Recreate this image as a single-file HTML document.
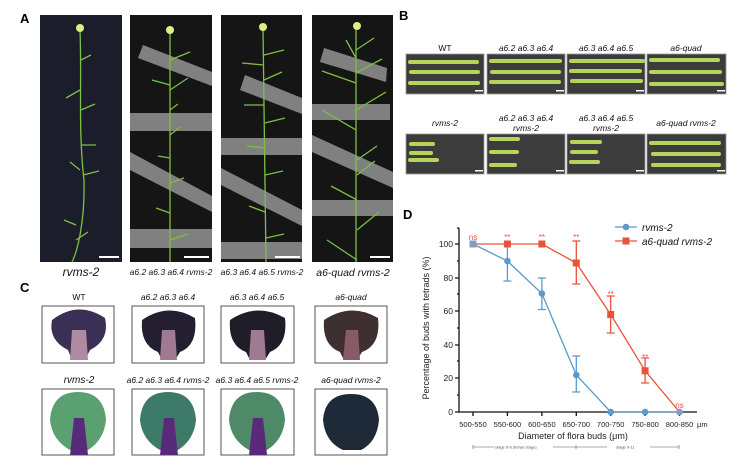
<!DOCTYPE html>
<html><head><meta charset="utf-8"><style>
html,body{margin:0;padding:0;background:#fff;}
svg{display:block;font-family:"Liberation Sans",Arial,sans-serif;}
</style></head><body>
<svg width="749" height="467" viewBox="0 0 749 467" xmlns="http://www.w3.org/2000/svg">
<rect width="749" height="467" fill="#fff"/>
<!-- Panel A -->
<text x="20" y="23" font-size="13" font-weight="bold">A</text>
<rect x="40" y="15" width="82" height="247" fill="#1c1d2a"/>
<rect x="130" y="15" width="82" height="247" fill="#151515"/>
<rect x="221" y="15" width="81" height="247" fill="#151515"/>
<rect x="312" y="15" width="81" height="247" fill="#151515"/>
<!-- tapes -->
<g fill="#8c8c8c" opacity="0.9">
<polygon points="143,45 212,72 212,86 138,58"/>
<rect x="130" y="113" width="82" height="18"/>
<polygon points="130,152 212,196 212,212 130,170"/>
<rect x="130" y="229" width="82" height="19"/>
<polygon points="245,75 302,98 302,114 240,90"/>
<rect x="221" y="138" width="81" height="17"/>
<polygon points="221,168 302,210 302,226 221,185"/>
<rect x="221" y="242" width="81" height="17"/>
<polygon points="324,48 387,68 386,82 320,62"/>
<rect x="312" y="104" width="78" height="16"/>
<polygon points="312,135 393,172 393,188 312,152"/>
<rect x="312" y="200" width="81" height="16"/>
</g>
<g stroke="#7cc043" stroke-width="1.3" fill="none">
<path d="M80,30 C82,80 78,130 84,180 C85,220 78,250 72,262"/>
<path d="M81,60 l10,-5 M80,90 l-14,8 M81,110 l14,-6 M82,145 l14,0 M83,175 l16,-4 M80,170 l-10,-8 M76,225 l-12,-5 M76,240 l12,-8"/>
<path d="M170,30 L170,262"/>
<path d="M170,60 l20,-8 M170,85 l-18,-5 M170,90 l18,-12 M170,110 l8,-6 M170,135 l10,-8 M170,158 l-12,-2 M170,183 l14,-5 M170,213 l-14,-5 M170,240 l18,-6"/>
<path d="M263,28 L266,262"/>
<path d="M264,55 l20,-5 M264,65 l-22,-2 M264,80 l18,-8 M264,105 l-20,0 M265,123 l20,-5 M265,148 l-18,-2 M265,175 l18,-4 M265,212 l-16,-6 M266,238 l18,-4"/>
<path d="M356,28 L356,262"/>
<path d="M356,50 l18,-12 M356,58 l-10,-18 M356,83 l-34,-12 M356,73 l26,-14 M356,110 l30,-18 M356,130 l-34,-20 M357,160 l20,-14 M357,175 l18,-14 M357,200 l-26,-14 M357,230 l22,-18 M357,260 l-30,-20"/>
</g>
<g fill="#d8f08a"><circle cx="80" cy="28" r="4"/><circle cx="170" cy="30" r="4"/><circle cx="263" cy="27" r="4"/><circle cx="357" cy="26" r="4"/></g>
<g fill="#fff"><rect x="99" y="256" width="20" height="2"/><rect x="184" y="256" width="25" height="2"/><rect x="275" y="256" width="25" height="2"/><rect x="370" y="256" width="20" height="2"/></g>
<g font-style="italic" text-anchor="middle" fill="#111">
<text x="81" y="276" font-size="12">rvms-2</text>
<text x="171" y="275" font-size="8.5">a6.2 a6.3 a6.4 rvms-2</text>
<text x="262" y="275" font-size="8.5">a6.3 a6.4 a6.5 rvms-2</text>
<text x="353" y="276" font-size="10.5">a6-quad rvms-2</text>
</g>
<!-- Panel B -->
<text x="399" y="20" font-size="13" font-weight="bold">B</text>
<g font-size="8.5" text-anchor="middle" fill="#111">
<text x="445" y="51">WT</text>
<text x="526" y="51" font-style="italic">a6.2 a6.3 a6.4</text>
<text x="606" y="51" font-style="italic">a6.3 a6.4 a6.5</text>
<text x="686" y="51" font-style="italic">a6-quad</text>
<text x="445" y="126" font-style="italic">rvms-2</text>
<text x="526" y="121" font-style="italic">a6.2 a6.3 a6.4</text>
<text x="526" y="131" font-style="italic">rvms-2</text>
<text x="606" y="121" font-style="italic">a6.3 a6.4 a6.5</text>
<text x="606" y="131" font-style="italic">rvms-2</text>
<text x="686" y="126" font-style="italic">a6-quad rvms-2</text>
</g>
<g fill="#3c3c3c" stroke="#999" stroke-width="0.8">
<rect x="406" y="54" width="78" height="40"/><rect x="487" y="54" width="78" height="40"/><rect x="567" y="54" width="78" height="40"/><rect x="647" y="54" width="79" height="40"/>
<rect x="406" y="134" width="78" height="40"/><rect x="487" y="134" width="78" height="40"/><rect x="567" y="134" width="78" height="40"/><rect x="647" y="134" width="79" height="40"/>
</g>
<g stroke="#b5d55a" stroke-width="4" stroke-linecap="round">
<path d="M410,62 H477 M411,72 H478 M410,83 H478"/>
<path d="M491,61 H560 M492,72 H559 M491,82 H559"/>
<path d="M571,61 H643 M571,71 H640 M572,81 H641"/>
<path d="M651,60 H718 M651,72 H720 M651,84 H722"/>
<path d="M411,144 H433 M411,153 H431 M410,160 H437"/>
<path d="M491,139 H518 M491,152 H517 M491,165 H515"/>
<path d="M572,142 H600 M572,152 H596 M571,162 H598"/>
<path d="M651,143 H719 M653,154 H719 M653,165 H719"/>
</g>
<g fill="#fff"><rect x="475" y="90" width="8" height="1.5"/><rect x="556" y="90" width="8" height="1.5"/><rect x="636" y="90" width="8" height="1.5"/><rect x="717" y="90" width="8" height="1.5"/><rect x="475" y="170" width="8" height="1.5"/><rect x="556" y="170" width="8" height="1.5"/><rect x="636" y="170" width="8" height="1.5"/><rect x="717" y="170" width="8" height="1.5"/></g>
<!-- Panel C -->
<text x="20" y="292" font-size="13" font-weight="bold">C</text>
<g font-size="8.5" text-anchor="middle" fill="#111">
<text x="79" y="300">WT</text>
<text x="168" y="300" font-style="italic">a6.2 a6.3 a6.4</text>
<text x="257" y="300" font-style="italic">a6.3 a6.4 a6.5</text>
<text x="351" y="300" font-style="italic">a6-quad</text>
<text x="79" y="383" font-style="italic" font-size="10">rvms-2</text>
<text x="168" y="383" font-style="italic">a6.2 a6.3 a6.4 rvms-2</text>
<text x="257" y="383" font-style="italic">a6.3 a6.4 a6.5 rvms-2</text>
<text x="351" y="383" font-style="italic">a6-quad rvms-2</text>
</g>
<g fill="#fff" stroke="#555" stroke-width="1">
<rect x="42" y="306" width="72" height="57"/><rect x="132" y="306" width="72" height="57"/><rect x="221" y="306" width="73" height="57"/><rect x="315" y="306" width="72" height="57"/>
<rect x="42" y="389" width="72" height="66"/><rect x="132" y="389" width="72" height="66"/><rect x="221" y="389" width="73" height="66"/><rect x="315" y="389" width="72" height="66"/>
</g>
<g>
<path d="M52,320 Q78,300 105,318 Q110,340 90,350 L85,360 L72,360 L68,350 Q48,340 52,320Z" fill="#3a2f55"/>
<path d="M142,320 Q168,302 195,318 Q198,345 180,352 L175,360 L162,360 L158,352 Q140,345 142,320Z" fill="#231f30"/>
<path d="M230,320 Q257,302 285,318 Q288,345 270,352 L265,360 L250,360 L246,352 Q228,345 230,320Z" fill="#1e1d28"/>
<path d="M324,320 Q351,302 378,318 Q381,345 362,352 L357,360 L344,360 L340,352 Q322,345 324,320Z" fill="#3e3030"/>
<path d="M72,330 L86,330 L88,360 L70,360Z" fill="#b08aa0"/>
<path d="M162,330 L175,330 L177,360 L160,360Z" fill="#a07a90"/>
<path d="M251,330 L264,330 L266,360 L249,360Z" fill="#a07a90"/>
<path d="M346,330 L358,330 L360,360 L343,360Z" fill="#8a5a6a"/>
<path d="M50,420 Q52,392 78,392 Q104,392 106,420 Q104,440 88,450 L70,450 Q52,440 50,420Z" fill="#5aa070"/>
<path d="M140,420 Q142,392 168,392 Q194,392 196,420 Q194,440 178,450 L160,450 Q142,440 140,420Z" fill="#3e7a68"/>
<path d="M229,420 Q231,392 257,392 Q283,392 285,420 Q283,440 267,450 L249,450 Q231,440 229,420Z" fill="#4e8a68"/>
<path d="M323,420 Q325,394 351,394 Q377,394 379,420 Q377,442 361,450 L343,450 Q325,442 323,420Z" fill="#1e2a38"/>
<path d="M74,418 L84,418 L88,455 L70,455Z" fill="#5a2a7a"/>
<path d="M164,418 L174,418 L178,455 L160,455Z" fill="#5a2a7a"/>
<path d="M253,418 L263,418 L267,455 L249,455Z" fill="#5a2a7a"/>
</g>
<!-- Panel D -->
<text x="403" y="219" font-size="13" font-weight="bold">D</text>
<g stroke="#111" stroke-width="1.3" fill="none">
<path d="M459,228 V412 H697"/>
<path d="M455,244 H459 M455,278 H459 M455,311 H459 M455,345 H459 M455,378 H459 M455,412 H459"/>
<path d="M457,261 H459 M457,294 H459 M457,328 H459 M457,361 H459 M457,395 H459 M457,228 H459"/>
<path d="M473,412 v4 M507.4,412 v4 M541.9,412 v4 M576.3,412 v4 M610.7,412 v4 M645.1,412 v4 M679.5,412 v4"/>
</g>
<g font-size="8.5" text-anchor="end" fill="#222">
<text x="453" y="247">100</text><text x="453" y="281">80</text><text x="453" y="314">60</text><text x="453" y="348">40</text><text x="453" y="381">20</text><text x="453" y="415">0</text>
</g>
<g font-size="7.5" text-anchor="middle" fill="#222">
<text x="473" y="427">500-550</text><text x="507.4" y="427">550-600</text><text x="541.9" y="427">600-650</text><text x="576.3" y="427">650-700</text><text x="610.7" y="427">700-750</text><text x="645.1" y="427">750-800</text><text x="679.5" y="427">800-850</text>
</g>
<text x="697" y="427" font-size="7.5" fill="#222">μm</text>
<text x="573" y="439" font-size="9" text-anchor="middle" fill="#222">Diameter of flora buds (μm)</text>
<text transform="translate(429,328) rotate(-90)" font-size="9" text-anchor="middle" fill="#222">Percentage of buds with tetrads (%)</text>
<g stroke="#555" stroke-width="0.6"><path d="M473,447 H494 M553,447 H576 M576,447 H607 M650,447 H679 M473,445 v4 M679,445 v4 M576,445 v4"/></g>
<g font-size="4" fill="#555"><text x="495" y="448.5">stage 6-8 (tetrad stage)</text><text x="616" y="448.5">stage 9-11</text></g>
<!-- blue series -->
<g stroke="#5b9ac9" stroke-width="1.3" fill="none">
<path d="M473,244 L507.4,261 L541.9,293.6 L576.3,375 L610.7,412 L645.1,412 L679.5,412"/>
<path d="M507.4,281 V244 M503.4,281 h8 M541.9,309.5 V278 M537.9,309.5 h8 M537.9,278 h8 M576.3,392 V356 M572.3,392 h8 M572.3,356 h8"/>
</g>
<g fill="#5b9ac9"><circle cx="473" cy="244" r="3.3"/><circle cx="507.4" cy="261" r="3.3"/><circle cx="541.9" cy="293.6" r="3.3"/><circle cx="576.3" cy="375" r="3.3"/><circle cx="610.7" cy="412" r="3.3"/><circle cx="645.1" cy="412" r="3.3"/><circle cx="679.5" cy="412" r="3.3"/></g>
<!-- red series -->
<g stroke="#e8533e" stroke-width="1.3" fill="none">
<path d="M473,244 L507.4,244 L541.9,244 L576.3,263 L610.7,314.5 L645.1,370.8 L679.5,412"/>
<path d="M576.3,284 V241 M572.3,284 h8 M572.3,241 h8 M610.7,333 V296 M606.7,333 h8 M606.7,296 h8 M645.1,383 V358 M641.1,383 h8 M641.1,358 h8"/>
</g>
<g fill="#e8533e"><rect x="469.5" y="240.5" width="7" height="7" fill="#8a9ac0"/><rect x="503.9" y="240.5" width="7" height="7"/><rect x="538.4" y="240.5" width="7" height="7"/><rect x="572.8" y="259.5" width="7" height="7"/><rect x="607.2" y="311" width="7" height="7"/><rect x="641.6" y="367.3" width="7" height="7"/></g>
<circle cx="679.5" cy="412" r="3.3" fill="#8a9ac0"/>
<g font-size="8" fill="#e8533e" text-anchor="middle">
<text x="473" y="240">ns</text><text x="507.4" y="240">**</text><text x="541.9" y="240">**</text><text x="576.3" y="240">**</text><text x="610.7" y="297">**</text><text x="645.1" y="360">**</text><text x="679.5" y="408">ns</text>
</g>
<!-- legend -->
<path d="M615,227 H637" stroke="#5b9ac9" stroke-width="1.3"/><circle cx="626" cy="227" r="3.3" fill="#5b9ac9"/>
<path d="M615,241 H637" stroke="#e8533e" stroke-width="1.3"/><rect x="622.5" y="237.5" width="7" height="7" fill="#e8533e"/>
<text x="642" y="231" font-size="10" font-style="italic" fill="#111">rvms-2</text>
<text x="642" y="245" font-size="10" font-style="italic" fill="#111">a6-quad rvms-2</text>
</svg>
</body></html>
